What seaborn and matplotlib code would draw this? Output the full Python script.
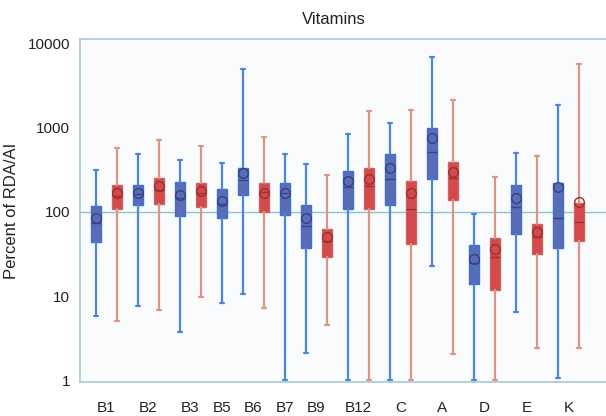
import matplotlib
matplotlib.use("Agg")
import matplotlib.pyplot as plt
import seaborn as sns
import numpy as np

sns.set_style("white")
plt.rcParams['font.family'] = ['Liberation Sans', 'DejaVu Sans']

# Groups in drawing order (B7 has a single box)
vitamins = ["B1", "B2", "B3", "B5", "B6", "B7", "B9", "B12", "C", "A", "D", "E", "K"]
box_vitamin = ["B1", "B1", "B2", "B2", "B3", "B3", "B5", "B6", "B6", "B7", "B9", "B9",
               "B12", "B12", "C", "C", "A", "A", "D", "D", "E", "E", "K", "K"]
box_group = ["b", "r", "b", "r", "b", "r", "b", "b", "r", "b", "b", "r",
             "b", "r", "b", "r", "b", "r", "b", "r", "b", "r", "b", "r"]
whisker_low = [5.8, 5.0, 7.7, 6.9, 3.7, 9.8, 8.3, 10.6, 7.1, 1.0, 2.1, 4.5,
               1.0, 1.0, 1.0, 1.0, 23, 2.04, 1.0, 1.0, 6.5, 2.4, 1.05, 2.4]
q1 = [44, 108, 120, 125, 90, 116, 86, 160, 101, 91, 37, 29.5,
      110, 110, 121, 41.6, 246, 138, 14, 11.8, 55, 32, 37, 44.6]
median = [73, 156, 162, 183, 148, 169, 126, 240, 175, 167, 68, 44.6,
          196, 204, 250, 110, 525, 257, 25, 29.5, 114, 51, 84, 75]
q3 = [118, 210, 210, 255, 226, 219, 186, 330, 219, 219, 121, 63,
      308, 330, 487, 235, 1000, 397, 41, 48.7, 207, 71, 223, 127]
whisker_high = [316, 575, 490, 720, 415, 610, 380, 5040, 777, 490, 370, 274,
                840, 1580, 1140, 1630, 6950, 2150, 95, 259, 506, 465, 1860, 5770]
mean = [86, 167, 167, 204, 160, 178, 136, 290, 170, 170, 84, 50,
        235, 250, 336, 167, 755, 300, 27.3, 36, 148, 58, 200, 130]
yticks = [1, 10, 100, 1000, 10000]
ytick_labels = ["1", "10", "100", "1000", "10000"]

W, H = 606, 416
fig = plt.figure(figsize=(W / 100, H / 100), dpi=100)
fig.patch.set_facecolor("white")
ax = fig.add_axes([80 / W, 34 / H, 536 / W, 343 / H])
ax.set_facecolor("#fafbfd")

pos = np.arange(len(q1))
style = {
    "b": dict(fill="#5a6cb6", edge="#3f70cc", wh="#4c86dc"),
    "r": dict(fill="#d44a4a", edge="#cc6262", wh="#dc9484"),
}
ax.axhline(100, color="#8ec3cc", lw=1.0, zorder=1)

for i in pos:
    s = style[box_group[i]]
    st = [dict(whislo=whisker_low[i], q1=q1[i], med=median[i], q3=q3[i],
               whishi=whisker_high[i], mean=mean[i], fliers=[])]
    ax.bxp(st, positions=[i], widths=0.5, patch_artist=True, showmeans=True,
           showfliers=False, manage_ticks=False,
           boxprops=dict(facecolor=s["fill"], edgecolor=s["edge"], lw=1.0),
           medianprops=dict(color="#33336a" if box_group[i] == "b" else "#8a2a2a", lw=1.0, alpha=0.7),
           whiskerprops=dict(color=s["wh"], lw=1.6),
           capprops=dict(color=s["wh"], lw=1.6),
           capwidths=0.18,
           meanprops=dict(marker="o", markersize=7, markerfacecolor="none",
                          markeredgecolor="#3a3f8a" if box_group[i] == "b" else "#9a2f2f",
                          markeredgewidth=1.0))

ax.set_yscale("log")
ax.set_ylim(10 ** (-2 / 84), 10 ** (341 / 84))
ax.set_xlim(-0.762, 24.76)
ax.set_yticks(yticks)
ax.set_yticklabels(ytick_labels, fontsize=11, color="#222222")
ax.yaxis.set_minor_locator(matplotlib.ticker.NullLocator())
ax.set_xticks(pos)
ax.set_xticklabels([""] * len(pos))
ax.tick_params(axis="both", which="major", direction="out", length=4, width=1,
               color="#9cc6d4", pad=3)
ax.tick_params(axis="x", length=5)

# group labels centered under each group
centers = []
for v in vitamins:
    idx = [k for k, bv in enumerate(box_vitamin) if bv == v]
    centers.append(np.mean(idx))
for c, v in zip(centers, vitamins):
    ax.text(c, -0.075, v, transform=ax.get_xaxis_transform(), ha="center", va="center",
            fontsize=11, color="#222222")

for sp in ["left", "top", "bottom"]:
    ax.spines[sp].set_color("#a6cad6")
    ax.spines[sp].set_linewidth(1.2)
ax.spines["right"].set_visible(False)

ax.set_ylabel("Percent of RDA/AI", fontsize=12, color="#222222", labelpad=6)
fig.text(334 / W, 1 - 20 / H, "Vitamins", ha="center", va="center", fontsize=12, color="#222222")

fig.savefig("out.png", dpi=100)
